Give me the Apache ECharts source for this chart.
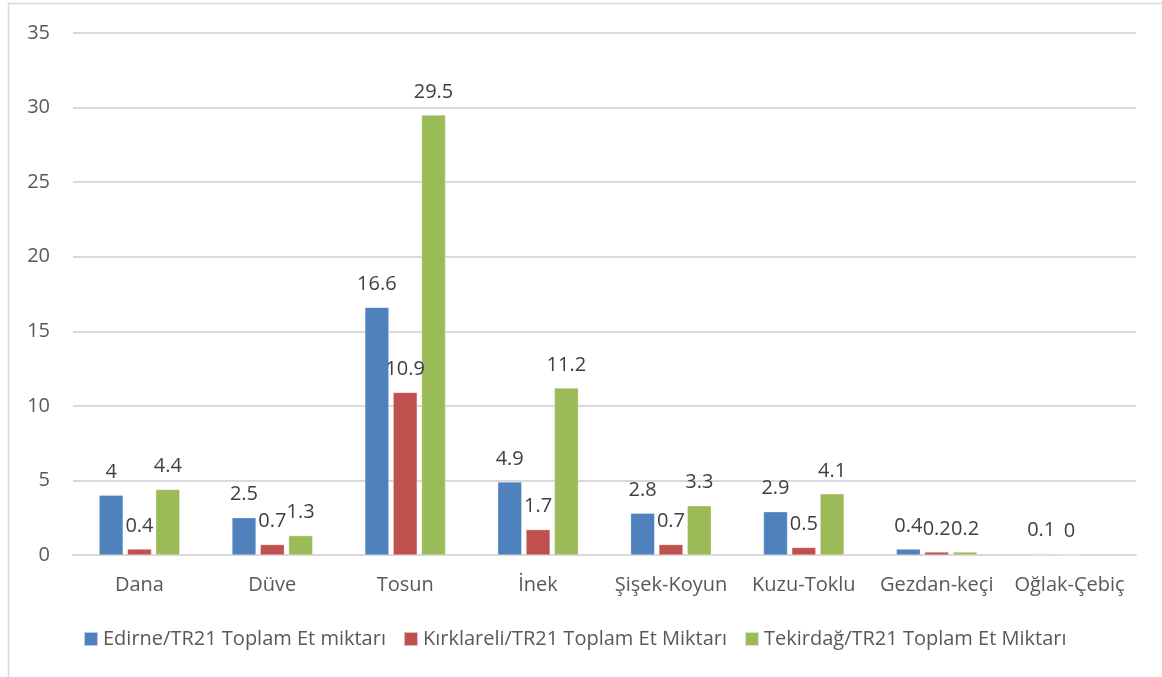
<!DOCTYPE html>
<html>
<head>
<meta charset="utf-8">
<script src="https://cdn.jsdelivr.net/npm/echarts@6/dist/echarts.min.js"></script>
<style>
  html, body { margin: 0; padding: 0; background: #fff; }
  #chart { width: 1162px; height: 677px; }
</style>
</head>
<body>
<div id="chart"></div>
<script>
// Meat amounts by animal type, share of TR21 total per province
const categories = ['Dana', 'Düve', 'Tosun', 'İnek', 'Şişek-Koyun', 'Kuzu-Toklu', 'Gezdan-keçi', 'Oğlak-Çebiç'];
const edirne     = [4, 2.5, 16.6, 4.9, 2.8, 2.9, 0.4, 0.1];
const kirklareli = [0.4, 0.7, 10.9, 1.7, 0.7, 0.5, 0.2, 0];
const tekirdag   = [4.4, 1.3, 29.5, 11.2, 3.3, 4.1, 0.2, null];
const seriesNames = [
  'Edirne/TR21 Toplam Et miktarı',
  'Kırklareli/TR21 Toplam Et Miktarı',
  'Tekirdağ/TR21 Toplam Et Miktarı'
];
const yTicks = { min: 0, max: 35, interval: 5 };

const FONT = 'Open Sans';
const colors = ['#4f81bd', '#c0504d', '#9bbb59'];

function barSeries(name, values, color) {
  return {
    name: name,
    type: 'bar',
    barWidth: 24,
    barGap: '18%',
    data: values.map((v, i) => {
      // the smallest Edirne bar is drawn in a pale tint
      if (color === colors[0] && i === values.length - 1) {
        return { value: v, itemStyle: { color: '#c8d6ea' } };
      }
      return v;
    }),
    itemStyle: { color: color, borderColor: 'rgba(255,255,255,0.6)', borderWidth: 0.5 },
    label: {
      show: true,
      position: 'top',
      distance: 13,
      color: '#404040',
      fontFamily: FONT,
      fontSize: 20
    }
  };
}

const chart = echarts.init(document.getElementById('chart'), null, { renderer: 'canvas' });
chart.setOption({
  animation: false,
  backgroundColor: '#ffffff',
  color: colors,
  grid: { left: 73, right: 26, top: 33, bottom: 122, containLabel: false },
  legend: {
    bottom: 23,
    left: 78,
    itemWidth: 14,
    itemHeight: 14,
    itemGap: 17,
    icon: 'rect',
    textStyle: { color: '#595959', fontFamily: FONT, fontSize: 20 },
    data: seriesNames
  },
  xAxis: {
    type: 'category',
    data: categories,
    axisLine: { show: true, lineStyle: { color: '#d9d9d9', width: 2 } },
    axisTick: { show: false },
    axisLabel: { interval: 0, color: '#595959', fontFamily: FONT, fontSize: 20, margin: 20 }
  },
  yAxis: {
    type: 'value',
    min: yTicks.min,
    max: yTicks.max,
    interval: yTicks.interval,
    axisLine: { show: false },
    axisTick: { show: false },
    splitLine: { lineStyle: { color: '#d9d9d9', width: 2 } },
    axisLabel: { color: '#595959', fontFamily: FONT, fontSize: 20, margin: 23 }
  },
  graphic: [{
    type: 'rect',
    shape: { x: 8.5, y: 3.5, width: 1170, height: 700 },
    style: { fill: 'none', stroke: '#d9d9d9', lineWidth: 1.5 },
    silent: true
  }],
  series: [
    barSeries(seriesNames[0], edirne, colors[0]),
    barSeries(seriesNames[1], kirklareli, colors[1]),
    barSeries(seriesNames[2], tekirdag, colors[2])
  ]
});
</script>
</body>
</html>
